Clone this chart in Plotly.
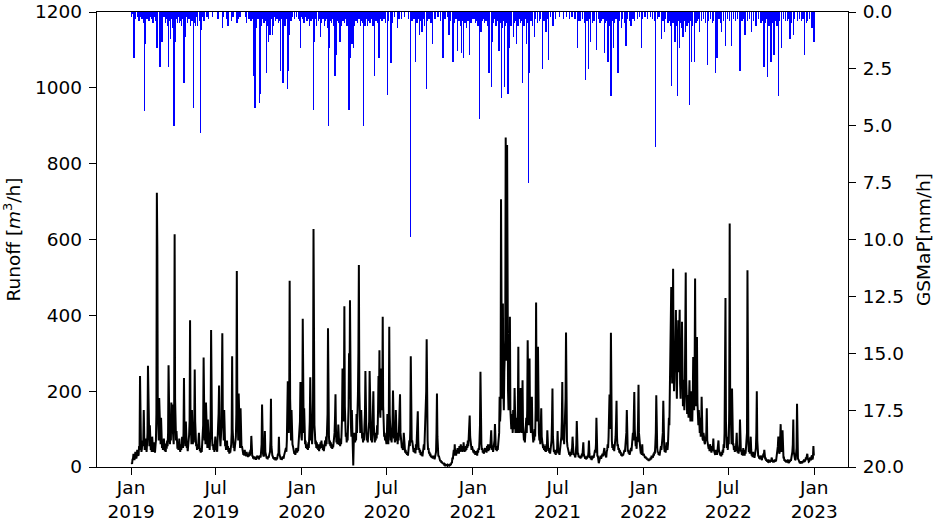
import plotly.graph_objects as go
from datetime import date, timedelta

# ---- Runoff [m3/h]: (day of year, value) ----
runoff_2019 = [(1,12),(2,8),(3,20),(4,22),(5,35),(6,30),(7,18),(8,25),(9,40),(10,35),(11,22),(12,28),(13,45),(14,40),(15,30),(16,32),(17,55),(18,45),(19,240),(20,90),(21,60),(22,40),(23,48),(24,70),(25,55),(26,70),(27,150),(28,80),(29,45),(30,55),(31,75),(32,48),(33,40),(34,60),(35,90),(36,267),(37,120),(38,75),(39,55),(40,110),(41,70),(42,45),(43,55),(44,40),(45,80),(46,60),(47,40),(48,50),(49,65),(50,45),(51,38),(52,55),(53,70),(54,140),(55,723),(56,580),(57,150),(58,95),(59,70),(60,182),(61,110),(62,80),(63,60),(64,130),(65,85),(66,50),(67,65),(68,45),(69,55),(70,75),(71,60),(72,42),(73,50),(74,40),(75,62),(76,48),(77,70),(78,55),(79,90),(80,268),(81,120),(82,85),(83,60),(84,95),(85,70),(86,170),(87,110),(88,165),(89,100),(90,80),(91,60),(92,150),(93,614),(94,180),(95,110),(96,70),(97,95),(98,70),(99,48),(100,60),(101,45),(102,55),(103,75),(104,50),(105,40),(106,60),(107,45),(108,52),(109,80),(110,65),(111,50),(112,90),(113,235),(114,100),(115,70),(116,55),(117,120),(118,75),(119,50),(120,55),(121,42),(122,60),(123,50),(124,85),(125,120),(126,387),(127,130),(128,80),(129,60),(130,150),(131,85),(132,60),(133,90),(134,65),(135,110),(136,257),(137,120),(138,75),(139,55),(140,60),(141,45),(142,55),(143,48),(144,70),(145,90),(146,60),(147,42),(148,50),(149,38),(150,45),(151,40),(152,60),(153,75),(154,110),(155,289),(156,100),(157,70),(158,95),(159,60),(160,170),(161,90),(162,60),(163,50),(164,125),(165,75),(166,50),(167,55),(168,45),(169,80),(170,120),(171,361),(172,130),(173,80),(174,55),(175,60),(176,45),(177,55),(178,40),(179,65),(180,80),(181,60),(182,45),(183,50),(184,40),(185,60),(186,110),(187,140),(188,215),(189,100),(190,70),(191,55),(192,80),(193,110),(194,220),(195,353),(196,150),(197,100),(198,70),(199,150),(200,80),(201,55),(202,60),(203,45),(204,55),(205,70),(206,45),(207,55),(208,40),(209,45),(210,35),(211,50),(212,38),(213,48),(214,60),(215,90),(216,292),(217,100),(218,70),(219,50),(220,55),(221,42),(222,60),(223,50),(224,80),(225,140),(226,517),(227,180),(228,100),(229,70),(230,194),(231,90),(232,70),(233,50),(234,155),(235,80),(236,50),(237,55),(238,40),(239,45),(240,32),(241,40),(242,30),(243,45),(244,32),(245,35),(246,28),(247,40),(248,30),(249,35),(250,26),(251,32),(252,28),(253,40),(254,30),(255,45),(256,38),(257,82),(258,40),(259,28),(260,30),(261,22),(262,26),(263,20),(264,28),(265,22),(266,24),(267,19),(268,26),(269,22),(270,30),(271,24),(272,26),(273,20),(274,24),(275,30),(276,28),(277,25),(278,35),(279,60),(280,165),(281,55),(282,35),(283,28),(284,30),(285,40),(286,95),(287,40),(288,28),(289,30),(290,22),(291,26),(292,20),(293,28),(294,24),(295,30),(296,35),(297,40),(298,70),(299,180),(300,55),(301,35),(302,30),(303,28),(304,22),(305,24),(306,20),(307,26),(308,21),(309,22),(310,18),(311,24),(312,20),(313,26),(314,35),(315,30),(316,80),(317,35),(318,28),(319,26),(320,20),(321,24),(322,19),(323,22),(324,28),(325,26),(326,22),(327,30),(328,40),(329,35),(330,45),(331,50),(332,40),(333,70),(334,120),(335,226),(336,120),(337,90),(338,160),(339,491),(340,180),(341,100),(342,70),(343,150),(344,80),(345,60),(346,55),(347,42),(348,45),(349,35),(350,40),(351,32),(352,38),(353,50),(354,45),(355,38),(356,50),(357,42),(358,60),(359,55),(360,80),(361,120),(362,224),(363,110),(364,80)]

runoff_2020 = [(0,70),(1,130),(2,391),(3,140),(4,90),(5,155),(6,90),(7,60),(8,70),(9,50),(10,60),(11,48),(12,55),(13,45),(14,65),(15,50),(16,80),(17,120),(18,237),(19,110),(20,70),(21,80),(22,60),(23,100),(24,180),(25,628),(26,200),(27,110),(28,90),(29,60),(30,70),(31,50),(32,65),(33,48),(34,60),(35,45),(36,55),(37,42),(38,60),(39,48),(40,65),(41,50),(42,70),(43,55),(44,60),(45,45),(46,55),(47,42),(48,60),(49,50),(50,70),(51,55),(52,80),(53,60),(54,100),(55,140),(56,366),(57,120),(58,80),(59,60),(60,70),(61,55),(62,65),(63,50),(64,60),(65,48),(66,60),(67,52),(68,70),(69,60),(70,90),(71,130),(72,192),(73,100),(74,65),(75,80),(76,60),(77,70),(78,112),(79,80),(80,58),(81,70),(82,55),(83,75),(84,60),(85,90),(86,130),(87,260),(88,150),(89,120),(90,180),(91,424),(92,160),(93,120),(94,80),(95,90),(96,65),(97,85),(98,70),(99,100),(100,160),(101,300),(102,180),(103,440),(104,170),(105,110),(106,80),(107,150),(108,100),(109,60),(110,4),(111,60),(112,90),(113,80),(114,65),(115,90),(116,70),(117,140),(118,90),(119,120),(120,190),(121,300),(122,533),(123,200),(124,130),(125,90),(126,100),(127,150),(128,100),(129,75),(130,80),(131,65),(132,90),(133,70),(134,110),(135,140),(136,253),(137,120),(138,90),(139,70),(140,80),(141,65),(142,100),(143,80),(144,120),(145,253),(146,130),(147,90),(148,70),(149,80),(150,65),(151,90),(152,130),(153,200),(154,110),(155,85),(156,65),(157,80),(158,70),(159,90),(160,75),(161,110),(162,85),(163,150),(164,240),(165,160),(166,308),(167,150),(168,130),(169,200),(170,260),(171,230),(172,150),(173,396),(174,160),(175,110),(176,80),(177,90),(178,70),(179,80),(180,70),(181,60),(182,90),(183,140),(184,80),(185,60),(186,120),(187,370),(188,140),(189,90),(190,70),(191,80),(192,65),(193,90),(194,120),(195,202),(196,100),(197,75),(198,90),(199,65),(200,70),(201,150),(202,100),(203,70),(204,80),(205,60),(206,90),(207,70),(208,110),(209,130),(210,192),(211,90),(212,65),(213,70),(214,50),(215,60),(216,45),(217,50),(218,90),(219,55),(220,50),(221,38),(222,45),(223,35),(224,40),(225,32),(226,38),(227,30),(228,50),(229,40),(230,70),(231,55),(232,100),(233,292),(234,100),(235,65),(236,70),(237,50),(238,55),(239,40),(240,50),(241,38),(242,45),(243,36),(244,60),(245,45),(246,80),(247,70),(248,147),(249,70),(250,45),(251,50),(252,38),(253,45),(254,32),(255,40),(256,30),(257,35),(258,28),(259,40),(260,35),(261,60),(262,45),(263,90),(264,70),(265,120),(266,200),(267,337),(268,120),(269,70),(270,45),(271,50),(272,35),(273,40),(274,30),(275,35),(276,26),(277,30),(278,24),(279,30),(280,22),(281,28),(282,22),(283,30),(284,20),(285,25),(286,30),(287,40),(288,90),(289,194),(290,80),(291,40),(292,28),(293,30),(294,20),(295,22),(296,15),(297,18),(298,12),(299,15),(300,10),(301,12),(302,8),(303,10),(304,7),(305,8),(306,5),(307,6),(308,4),(309,5),(310,7),(311,6),(312,3),(313,4),(314,6),(315,6),(316,4),(317,5),(318,8),(319,7),(320,12),(321,10),(322,25),(323,20),(324,35),(325,45),(326,30),(327,60),(328,35),(329,40),(330,30),(331,45),(332,35),(333,50),(334,38),(335,45),(336,35),(337,55),(338,40),(339,48),(340,60),(341,45),(342,50),(343,40),(344,55),(345,45),(346,65),(347,45),(348,40),(349,50),(350,42),(351,55),(352,45),(353,60),(354,50),(355,70),(356,55),(357,80),(358,100),(359,136),(360,80),(361,55),(362,60),(363,45),(364,55),(365,50)]

runoff_2021 = [(0,50),(1,38),(2,45),(3,35),(4,40),(5,32),(6,42),(7,35),(8,38),(9,30),(10,45),(11,38),(12,50),(13,45),(14,70),(15,110),(16,251),(17,90),(18,60),(19,45),(20,50),(21,38),(22,45),(23,35),(24,40),(25,48),(26,50),(27,40),(28,45),(29,38),(30,55),(31,45),(32,60),(33,42),(34,50),(35,45),(36,60),(37,50),(38,70),(39,97),(40,60),(41,45),(42,50),(43,40),(44,55),(45,48),(46,70),(47,113),(48,60),(49,45),(50,50),(51,42),(52,55),(53,45),(54,60),(55,70),(56,90),(57,185),(58,120),(59,150),(60,706),(61,250),(62,180),(63,250),(64,431),(65,200),(66,150),(67,250),(68,300),(69,334),(70,869),(71,400),(72,280),(73,849),(74,330),(75,200),(76,150),(77,250),(78,180),(79,396),(80,150),(81,120),(82,100),(83,140),(84,110),(85,90),(86,150),(87,100),(88,120),(89,208),(90,110),(91,90),(92,100),(93,130),(94,110),(95,90),(96,150),(97,317),(98,120),(99,90),(100,100),(101,130),(102,208),(103,100),(104,90),(105,120),(106,229),(107,110),(108,90),(109,70),(110,80),(111,65),(112,100),(113,80),(114,130),(115,90),(116,150),(117,334),(118,150),(119,110),(120,180),(121,286),(122,130),(123,100),(124,90),(125,120),(126,185),(127,100),(128,80),(129,65),(130,90),(131,70),(132,100),(133,80),(134,150),(135,434),(136,200),(137,120),(138,150),(139,317),(140,120),(141,90),(142,70),(143,80),(144,60),(145,100),(146,155),(147,80),(148,60),(149,70),(150,50),(151,60),(152,45),(153,55),(154,42),(155,50),(156,40),(157,60),(158,48),(159,97),(160,60),(161,42),(162,50),(163,38),(164,45),(165,35),(166,55),(167,45),(168,70),(169,120),(170,207),(171,80),(172,55),(173,40),(174,45),(175,35),(176,40),(177,32),(178,45),(179,38),(180,50),(181,95),(182,50),(183,35),(184,40),(185,32),(186,45),(187,38),(188,60),(189,80),(190,120),(191,224),(192,100),(193,70),(194,80),(195,60),(196,110),(197,90),(198,180),(199,355),(200,120),(201,70),(202,55),(203,50),(204,38),(205,40),(206,32),(207,35),(208,28),(209,40),(210,32),(211,45),(212,50),(213,80),(214,45),(215,32),(216,35),(217,28),(218,30),(219,25),(220,40),(221,60),(222,121),(223,50),(224,35),(225,35),(226,26),(227,30),(228,24),(229,28),(230,22),(231,30),(232,25),(233,35),(234,28),(235,40),(236,65),(237,35),(238,26),(239,30),(240,22),(241,28),(242,20),(243,25),(244,22),(245,30),(246,26),(247,40),(248,70),(249,35),(250,24),(251,28),(252,20),(253,25),(254,18),(255,30),(256,22),(257,28),(258,24),(259,35),(260,30),(261,45),(262,38),(263,60),(264,130),(265,50),(266,28),(267,30),(268,18),(269,10),(270,15),(271,25),(272,20),(273,30),(274,22),(275,28),(276,25),(277,35),(278,28),(279,40),(280,35),(281,50),(282,35),(283,28),(284,30),(285,25),(286,40),(287,45),(288,60),(289,50),(290,80),(291,120),(292,191),(293,100),(294,150),(295,354),(296,120),(297,70),(298,50),(299,60),(300,45),(301,50),(302,42),(303,60),(304,55),(305,80),(306,120),(307,175),(308,80),(309,55),(310,60),(311,45),(312,50),(313,38),(314,45),(315,35),(316,40),(317,30),(318,35),(319,28),(320,35),(321,30),(322,40),(323,35),(324,45),(325,40),(326,60),(327,50),(328,90),(329,150),(330,60),(331,40),(332,45),(333,35),(334,40),(335,32),(336,45),(337,38),(338,50),(339,42),(340,60),(341,55),(342,90),(343,70),(344,120),(345,198),(346,100),(347,70),(348,55),(349,60),(350,48),(351,80),(352,65),(353,120),(354,217),(355,90),(356,60),(357,45),(358,45),(359,35),(360,40),(361,32),(362,60),(363,35),(364,30)]

runoff_2022 = [(0,35),(1,28),(2,30),(3,24),(4,28),(5,22),(6,25),(7,20),(8,22),(9,18),(10,20),(11,16),(12,22),(13,20),(14,18),(15,25),(16,20),(17,30),(18,24),(19,28),(20,25),(21,35),(22,30),(23,40),(24,35),(25,60),(26,90),(27,189),(28,80),(29,50),(30,38),(31,40),(32,32),(33,35),(34,30),(35,45),(36,38),(37,55),(38,45),(39,60),(40,70),(41,90),(42,175),(43,70),(44,50),(45,40),(46,45),(47,38),(48,55),(49,65),(50,50),(51,45),(52,60),(53,90),(54,130),(55,110),(56,180),(57,240),(58,300),(59,475),(60,280),(61,220),(62,330),(63,523),(64,260),(65,200),(66,300),(67,250),(68,330),(69,414),(70,230),(71,180),(72,260),(73,350),(74,387),(75,250),(76,300),(77,415),(78,220),(79,180),(80,280),(81,240),(82,383),(83,200),(84,160),(85,230),(86,190),(87,150),(88,200),(89,300),(90,513),(91,230),(92,170),(93,140),(94,190),(95,150),(96,130),(97,180),(98,229),(99,160),(100,120),(101,150),(102,200),(103,140),(104,120),(105,180),(106,290),(107,200),(108,150),(109,250),(110,497),(111,220),(112,160),(113,200),(114,343),(115,170),(116,130),(117,110),(118,150),(119,100),(120,90),(121,130),(122,80),(123,100),(124,185),(125,90),(126,75),(127,70),(128,90),(129,80),(130,65),(131,60),(132,75),(133,70),(134,90),(135,155),(136,70),(137,60),(138,55),(139,48),(140,50),(141,42),(142,60),(143,48),(144,45),(145,38),(146,55),(147,42),(148,50),(149,75),(150,45),(151,38),(152,40),(153,32),(154,45),(155,35),(156,40),(157,32),(158,50),(159,40),(160,70),(161,45),(162,35),(163,40),(164,30),(165,35),(166,28),(167,40),(168,32),(169,45),(170,38),(171,60),(172,50),(173,90),(174,200),(175,446),(176,120),(177,70),(178,50),(179,60),(180,45),(181,80),(182,60),(183,150),(184,642),(185,200),(186,110),(187,80),(188,60),(189,207),(190,90),(191,60),(192,60),(193,45),(194,50),(195,40),(196,55),(197,42),(198,60),(199,90),(200,50),(201,38),(202,45),(203,35),(204,55),(205,60),(206,125),(207,60),(208,40),(209,45),(210,32),(211,40),(212,30),(213,50),(214,35),(215,40),(216,30),(217,45),(218,35),(219,50),(220,60),(221,90),(222,519),(223,110),(224,60),(225,40),(226,45),(227,35),(228,50),(229,80),(230,45),(231,30),(232,35),(233,26),(234,40),(235,28),(236,30),(237,24),(238,35),(239,30),(240,50),(241,90),(242,200),(243,70),(244,40),(245,28),(246,30),(247,22),(248,28),(249,20),(250,30),(251,22),(252,25),(253,18),(254,30),(255,25),(256,35),(257,30),(258,45),(259,30),(260,20),(261,25),(262,16),(263,20),(264,14),(265,18),(266,12),(267,20),(268,14),(269,15),(270,12),(271,18),(272,14),(273,20),(274,25),(275,15),(276,18),(277,12),(278,15),(279,12),(280,20),(281,14),(282,18),(283,15),(284,25),(285,30),(286,40),(287,55),(288,80),(289,50),(290,35),(291,40),(292,60),(293,113),(294,60),(295,40),(296,45),(297,97),(298,40),(299,25),(300,25),(301,16),(302,20),(303,14),(304,18),(305,12),(306,15),(307,12),(308,20),(309,14),(310,15),(311,10),(312,18),(313,14),(314,20),(315,16),(316,25),(317,30),(318,40),(319,60),(320,125),(321,40),(322,28),(323,25),(324,18),(325,20),(326,30),(327,50),(328,167),(329,40),(330,22),(331,20),(332,14),(333,15),(334,10),(335,12),(336,9),(337,15),(338,10),(339,10),(340,14),(341,15),(342,12),(343,20),(344,14),(345,15),(346,18),(347,25),(348,20),(349,30),(350,35),(351,22),(352,20),(353,14),(354,15),(355,20),(356,25),(357,18),(358,20),(359,28),(360,30),(361,20),(362,25),(363,55),(364,30)]

# ---- GSMaP rainfall [mm/h]: (day of year, value) ----
rain_2019 = [(6,2.0),(28,4.35),(30,1.4),(55,1.6),(62,2.4),(66,1.3),(80,2.4),(84,1.2),(92,5.0),(95,1.3),(104,0.5),(113,3.1),(116,1.1),(134,4.2),(137,0.6),(148,5.3),(151,0.8),(195,0.7),(207,0.6),(214,0.4),(226,0.5),(233,0.2),(247,0.5),(262,2.8),(265,4.2),(275,4.0),(277,3.6),(290,2.7),(294,1.3),(297,1.0),(302,1.0),(319,2.6),(325,3.1),(334,3.4),(336,2.6),(338,1.0),(362,1.6)]
rain_2020 = [(25,4.3),(27,1.3),(40,1.1),(57,5.0),(59,1.6),(71,2.8),(73,1.9),(82,1.3),(101,4.3),(103,2.0),(107,1.4),(110,1.6),(132,5.0),(135,0.6),(156,2.8),(165,2.0),(173,0.4),(183,3.65),(191,2.26),(204,0.7),(213,0.3),(232,9.9),(243,2.2),(252,1.0),(257,0.9),(266,3.4),(280,1.4),(302,2.0),(315,1.0),(323,2.2),(333,1.7),(341,1.8),(346,2.0),(359,1.9)]
rain_2021 = [(14,4.7),(17,0.9),(34,2.7),(39,3.3),(41,1.3),(48,0.6),(56,1.7),(61,3.8),(68,3.3),(75,3.6),(77,1.6),(86,1.1),(93,1.4),(106,3.1),(114,1.4),(119,7.5),(121,2.7),(131,1.1),(149,2.5),(156,0.9),(162,2.1),(171,0.6),(224,1.6),(230,0.4),(241,3.0),(247,2.5),(252,1.3),(264,1.65),(281,1.8),(289,2.2),(295,3.7),(300,1.6),(310,2.7),(317,0.7),(327,1.5),(338,0.6),(360,1.6)]
rain_2022 = [(26,5.95),(38,1.2),(44,0.9),(60,3.25),(67,1.3),(72,3.7),(77,1.6),(84,1.1),(90,0.9),(98,4.1),(102,2.2),(109,2.2),(120,0.9),(136,2.35),(153,2.7),(157,2.0),(167,0.9),(175,1.5),(188,1.5),(206,2.6),(217,1.0),(231,0.9),(240,0.6),(257,2.4),(265,2.85),(272,2.2),(279,1.9),(288,3.7),(295,1.6),(304,0.4),(313,1.2),(320,1.0),(344,1.9),(360,0.7),(364,1.3)]

rain_light_2019 = [(1,0.2),(4,0.1),(9,0.3),(13,0.2),(17,0.4),(20,0.2),(23,0.3),(26,0.5),(31,0.2),(34,0.3),(38,0.4),(41,0.2),(44,0.3),(47,0.5),(50,0.2),(53,0.4),(57,0.3),(60,0.6),(63,0.4),(67,0.3),(70,0.2),(73,0.5),(76,0.3),(79,0.6),(83,0.4),(86,0.3),(89,0.7),(93,0.4),(96,0.3),(99,0.5),(102,0.2),(105,0.4),(108,0.6),(111,0.3),(114,0.4),(118,0.2),(121,0.5),(124,0.3),(127,0.6),(130,0.4),(133,0.3),(136,0.5),(139,0.2),(142,0.6),(146,0.4),(149,0.3),(152,0.2),(156,0.4),(162,0.2),(166,0.3),(174,0.2),(186,0.3),(198,0.2),(205,0.3),(218,0.2),(230,0.3),(244,0.2),(252,0.3),(256,0.4),(259,0.3),(261,0.5),(263,0.6),(266,0.4),(268,0.7),(271,0.3),(274,0.5),(276,0.4),(278,0.6),(281,0.3),(284,0.5),(286,0.4),(288,0.2),(291,0.6),(293,0.4),(295,0.3),(298,0.5),(301,0.3),(303,0.6),(306,0.2),(309,0.4),(312,0.3),(315,0.5),(318,0.4),(320,0.6),(322,0.3),(324,0.5),(326,0.4),(329,0.6),(332,0.3),(335,0.4),(337,0.5),(339,0.3),(342,0.4),(345,0.2),(350,0.3),(354,0.2),(358,0.3),(361,0.4),(364,0.2)]
rain_light_2020 = [(2,0.3),(5,0.5),(8,0.2),(11,0.4),(14,0.3),(17,0.6),(20,0.4),(22,0.3),(26,0.5),(29,0.3),(32,0.6),(35,0.4),(38,0.3),(42,0.5),(45,0.3),(48,0.6),(51,0.4),(54,0.3),(56,0.7),(61,0.4),(64,0.5),(67,0.3),(69,0.6),(75,0.4),(78,0.5),(80,0.3),(85,0.6),(88,0.4),(91,0.5),(94,0.3),(97,0.6),(99,0.4),(105,0.5),(109,0.3),(113,0.6),(116,0.4),(119,0.5),(122,0.3),(125,0.6),(128,0.4),(130,0.5),(137,0.3),(140,0.6),(143,0.4),(146,0.5),(149,0.3),(152,0.6),(159,0.4),(162,0.5),(168,0.3),(171,0.4),(176,0.3),(179,0.5),(186,0.4),(189,0.3),(194,0.5),(198,0.2),(208,0.3),(220,0.2),(228,0.3),(236,0.4),(240,0.3),(246,0.5),(249,0.3),(255,0.4),(261,0.3),(263,0.6),(269,0.4),(272,0.3),(276,0.5),(285,0.3),(291,0.2),(297,0.4),(306,0.3),(311,0.2),(318,0.4),(327,0.5),(330,0.3),(336,0.4),(339,0.6),(343,0.4),(349,0.5),(352,0.7),(355,0.4),(362,0.5),(365,0.3)]
rain_light_2021 = [(2,0.3),(5,0.5),(8,0.4),(11,0.6),(19,0.4),(22,0.3),(25,0.5),(28,0.4),(31,0.6),(36,0.4),(44,0.5),(46,0.3),(51,0.6),(53,0.4),(58,0.5),(63,0.7),(65,0.4),(70,0.6),(72,0.5),(79,0.4),(81,0.6),(83,0.3),(88,0.5),(90,0.4),(96,0.6),(99,0.3),(101,0.5),(103,0.4),(109,0.6),(111,0.3),(116,0.5),(124,0.4),(127,0.6),(134,0.3),(138,0.5),(142,0.4),(145,0.3),(152,0.4),(159,0.3),(166,0.2),(176,0.3),(185,0.2),(193,0.3),(200,0.2),(206,0.3),(212,0.2),(218,0.3),(227,0.4),(234,0.3),(238,0.5),(244,0.4),(250,0.3),(256,0.5),(259,0.4),(268,0.3),(272,0.5),(275,0.4),(278,0.3),(284,0.5),(287,0.4),(292,0.6),(298,0.4),(303,0.5),(306,0.3),(313,0.4),(320,0.3),(324,0.5),(331,0.3),(335,0.4),(342,0.3),(346,0.4),(352,0.3),(356,0.2),(363,0.3)]
rain_light_2022 = [(3,0.2),(8,0.3),(14,0.2),(19,0.3),(23,0.4),(29,0.3),(33,0.2),(41,0.4),(47,0.3),(52,0.5),(55,0.4),(57,0.6),(63,0.5),(65,0.3),(69,0.6),(75,0.4),(80,0.5),(82,0.7),(87,0.4),(93,0.6),(95,0.5),(100,0.4),(105,0.6),(112,0.5),(115,0.4),(118,0.3),(124,0.4),(128,0.3),(132,0.5),(139,0.4),(143,0.3),(147,0.5),(150,0.4),(161,0.3),(164,0.5),(171,0.4),(179,0.3),(183,0.4),(192,0.3),(196,0.4),(201,0.3),(210,0.4),(213,0.3),(222,0.4),(226,0.3),(235,0.4),(245,0.3),(251,0.5),(254,0.4),(260,0.5),(262,0.3),(268,0.6),(270,0.4),(275,0.5),(282,0.4),(285,0.6),(291,0.4),(299,0.3),(307,0.4),(310,0.3),(316,0.5),(323,0.3),(329,0.4),(333,0.3),(338,0.4),(341,0.3),(348,0.5),(351,0.4),(355,0.3)]

x_tick_dates = ["2019-01-01", "2019-07-01", "2020-01-01", "2020-07-01", "2021-01-01",
                "2021-07-01", "2022-01-01", "2022-07-01", "2023-01-01"]
x_tick_text = ["Jan<br>2019", "Jul<br>2019", "Jan<br>2020", "Jul<br>2020", "Jan<br>2021",
               "Jul<br>2021", "Jan<br>2022", "Jul<br>2022", "Jan<br>2023"]
y_left_ticks = [0, 200, 400, 600, 800, 1000, 1200]
y_right_ticks = [0.0, 2.5, 5.0, 7.5, 10.0, 12.5, 15.0, 17.5, 20.0]


def expand(year_lists):
    xs, ys = [], []
    for year, pairs in year_lists:
        base = date(year, 1, 1)
        for d, v in pairs:
            xs.append((base + timedelta(days=d)).isoformat())
            ys.append(v)
    return xs, ys


run_x, run_y = expand([(2019, runoff_2019), (2020, runoff_2020),
                       (2021, runoff_2021), (2022, runoff_2022)])
rain_x, rain_y = expand([(2019, rain_light_2019), (2020, rain_light_2020),
                         (2021, rain_light_2021), (2022, rain_light_2022),
                         (2019, rain_2019), (2020, rain_2020),
                         (2021, rain_2021), (2022, rain_2022)])

FONT = "DejaVu Sans"
FS = 18.5

fig = go.Figure()
fig.add_trace(go.Scatter(x=run_x, y=run_y, mode="lines",
                         line=dict(color="black", width=2), showlegend=False))
fig.add_trace(go.Bar(x=rain_x, y=rain_y, yaxis="y2", width=0.8 * 86400000,
                     marker=dict(color="#0000ff", line=dict(width=0)),
                     showlegend=False))

axis_common = dict(showline=True, linecolor="black", linewidth=1.3,
                   ticks="outside", ticklen=7, tickwidth=1.3, tickcolor="black",
                   showgrid=False, zeroline=False, automargin=False,
                   ticklabeloverflow="allow",
                   tickfont=dict(family=FONT, size=FS, color="black"))

fig.update_layout(
    width=935, height=521,
    margin=dict(l=97, r=87, t=12, b=54, autoexpand=False),
    paper_bgcolor="white", plot_bgcolor="white",
    barmode="overlay", bargap=0,
    showlegend=False,
    xaxis=dict(type="date", range=["2018-10-20", "2023-03-14"],
               tickvals=x_tick_dates, ticktext=x_tick_text, mirror=True,
               ticklabelstandoff=-3, **axis_common),
    yaxis=dict(range=[0, 1200], tickvals=y_left_ticks, ticklabelstandoff=3,
               title=dict(text="Runoff [<i>m</i><sup>3</sup>/h]", standoff=15,
                          font=dict(family=FONT, size=FS, color="black")),
               **axis_common),
    yaxis2=dict(overlaying="y", side="right", range=[20, 0],
                tickvals=y_right_ticks, tickformat=".1f", ticklabelstandoff=3,
                title=dict(text="GSMaP[mm/h]", standoff=13,
                           font=dict(family=FONT, size=FS, color="black")),
                **axis_common),
)

# remove the default 8 px page margin so the figure fills the window exactly
fig.write_html("out.html",
               config={"displayModeBar": False},
               post_script="document.body.style.margin='0';"
                           "document.body.style.overflow='hidden';")
